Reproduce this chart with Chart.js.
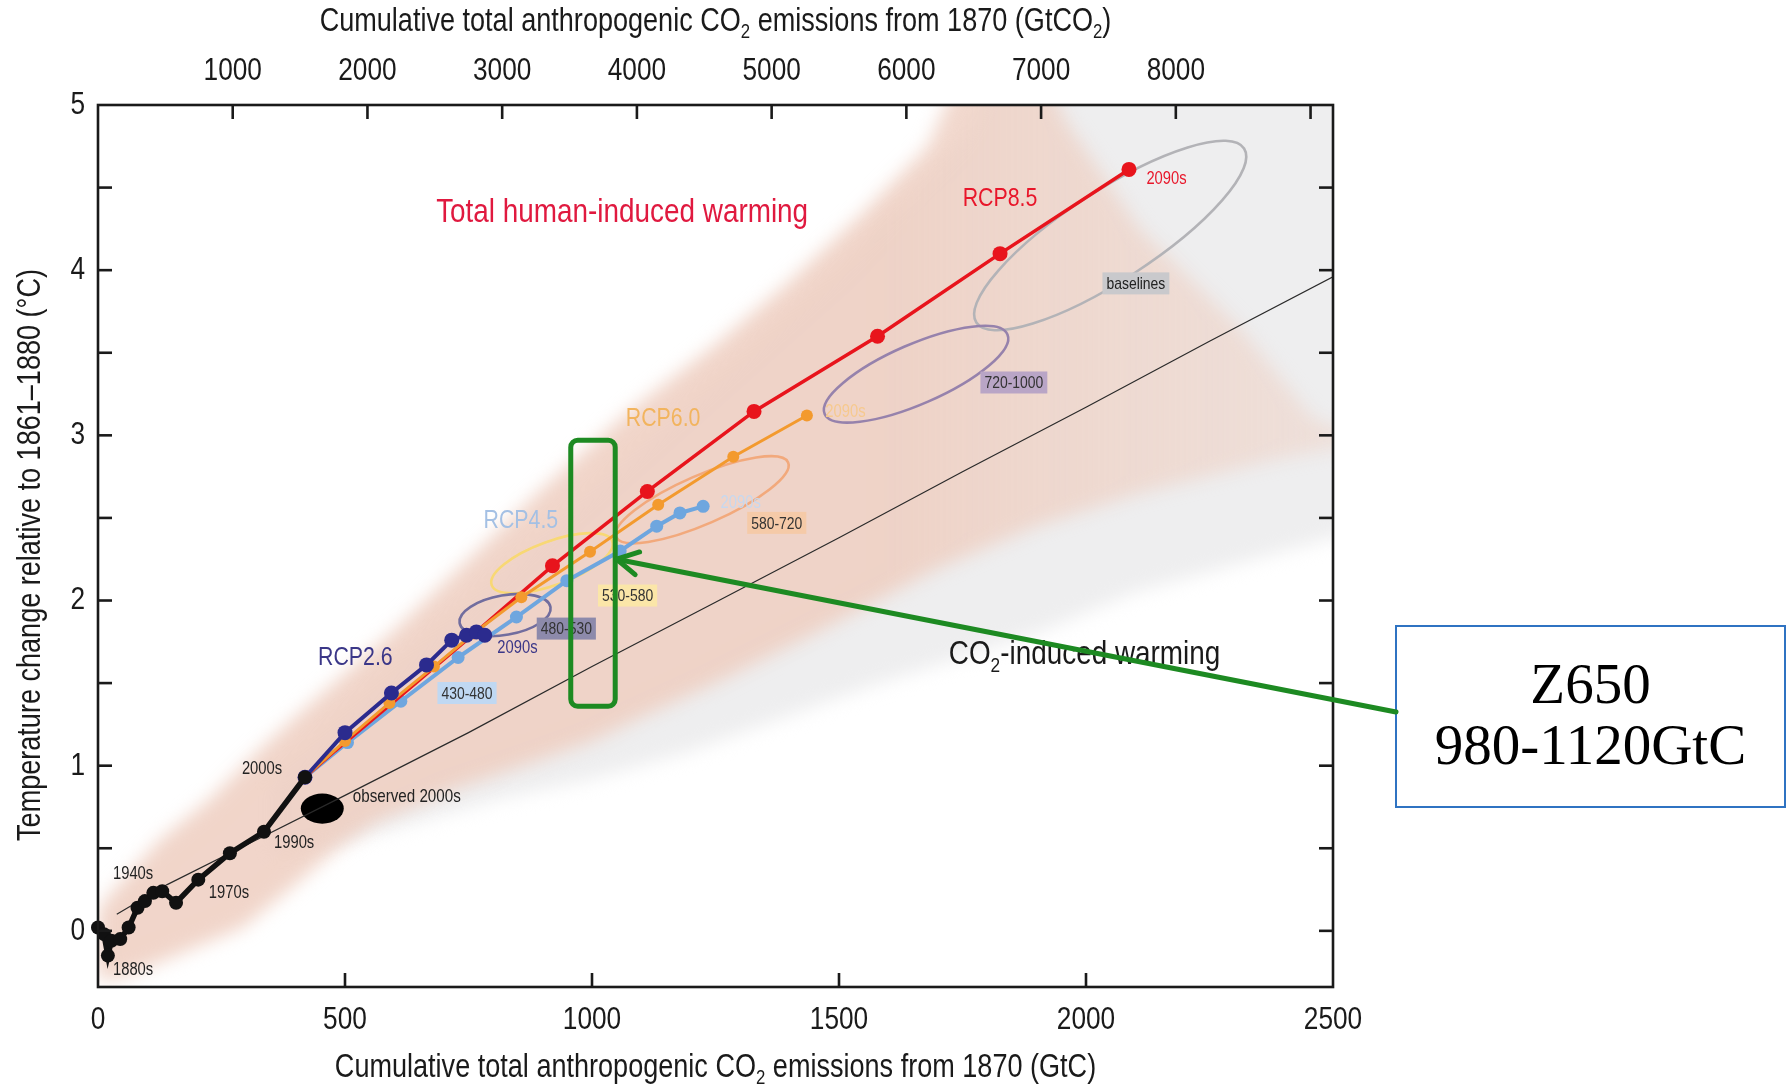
<!DOCTYPE html>
<html>
<head>
<meta charset="utf-8">
<script src="https://cdn.jsdelivr.net/npm/chart.js@4.4.1/dist/chart.umd.min.js"></script>
<style>
  html, body { margin: 0; padding: 0; background: #fff; }
</style>
</head>
<body>
<canvas id="c" width="1787" height="1088"></canvas>
<script>
// Historical decades (GtC, degC)
const histX = [0, 12, 20, 27, 45, 62, 80, 95, 112, 130, 158, 203, 267, 336, 419];
const histY = [0.02, -0.02, -0.15, -0.06, -0.05, 0.02, 0.14, 0.18, 0.23, 0.24, 0.17, 0.31, 0.47, 0.60, 0.93];

// RCP scenarios, decadal means 2000s..2090s
const rcp26X = [419, 500, 594, 665, 716, 746, 766, 783];
const rcp26Y = [0.93, 1.20, 1.44, 1.61, 1.76, 1.79, 1.81, 1.79];
const rcp45X = [419, 505, 613, 729, 847, 949, 1057, 1131, 1178, 1225];
const rcp45Y = [0.93, 1.14, 1.39, 1.655, 1.90, 2.12, 2.30, 2.45, 2.53, 2.57];
const rcp60X = [419, 500, 590, 680, 760, 857, 996, 1134, 1286, 1435];
const rcp60Y = [0.93, 1.15, 1.38, 1.60, 1.80, 2.02, 2.295, 2.58, 2.87, 3.12];
const rcp85X = [419, 480, 600, 750, 920, 1112, 1328, 1578, 1826, 2087];
const rcp85Y = [0.93, 1.09, 1.39, 1.77, 2.21, 2.66, 3.145, 3.60, 4.10, 4.61];

// CO2-induced warming (thin black line)
const co2X = [38, 140, 300, 500, 750, 1000, 1250, 1500, 1750, 2000, 2250, 2500];
const co2Y = [0.10, 0.28, 0.52, 0.82, 1.20, 1.60, 1.99, 2.38, 2.78, 3.17, 3.57, 3.96];

// plume outlines
const pinkUpX = [0, 24, 125, 227, 328, 409, 600, 750, 900, 1077, 1250, 1395, 1550, 1680, 1760, 1900, 1960, 2109, 2312, 2460, 2550];
const pinkUpY = [0.12, 0.22, 0.55, 0.80, 1.10, 1.32, 1.82, 2.25, 2.68, 3.15, 3.55, 3.92, 4.35, 4.75, 5.3, 5.3, 4.9, 4.25, 3.65, 3.1, 3.0];
const pinkLoX = [2550, 2379, 2109, 1900, 1704, 1450, 1250, 1083, 1000, 880, 712, 564, 484, 395, 293, 125, 50, 0];
const pinkLoY = [2.95, 2.85, 2.65, 2.45, 2.2, 1.8, 1.5, 1.27, 1.15, 1.02, 0.85, 0.66, 0.5, 0.27, 0.02, -0.19, -0.28, -0.3];
const greyUpX = [350, 600, 900, 1200, 1500, 1750, 1850, 2600];
const greyUpY = [0.9, 1.6, 2.4, 3.2, 4.0, 4.8, 5.4, 5.4];
const greyLoX = [2600, 2500, 2100, 1900, 1573, 1192, 1000, 814, 600, 450, 350];
const greyLoY = [2.45, 2.38, 2.05, 1.8, 1.49, 1.08, 0.92, 0.8, 0.62, 0.5, 0.45];

// top axis (GtCO2)
const topTicks = [1000, 2000, 3000, 4000, 5000, 6000, 7000, 8000, 9000];
const topLabels = ['1000', '2000', '3000', '4000', '5000', '6000', '7000', '8000', ''];
const CO2_PER_C = 44 / 12;

// concentration ellipses: centre, tip of the long axis, short/long ratio
const ellipses = [
  { cx: 2049, cy: 4.21, tx: 2320, ty: 4.737, ratio: 0.28, color: '#b3b3b7' },
  { cx: 1656, cy: 3.37, tx: 1841, ty: 3.611, ratio: 0.30, color: '#9682ac' },
  { cx: 1223, cy: 2.61, tx: 1397, ty: 2.836, ratio: 0.26, color: '#f2a97c' },
  { cx: 919, cy: 2.226, tx: 1041, ty: 2.359, ratio: 0.34, color: '#f8d874' },
  { cx: 824, cy: 1.912, tx: 916, ty: 1.96, ratio: 0.43, color: '#716d9e' }
];
const observed = { x: 454, y: 0.74, rx: 43.5, ry: 0.091 };

const FONT = "'Liberation Sans', Arial, sans-serif";
const SQ = 0.82; // horizontal squeeze, condensed look
const GREEN = '#1d8a22';
const INK = '#1a1a1a';

// text annotations (data positions)
const tags = [
  { t: 'baselines', x: 2101, y: 3.92, bg: '#c9c9cc', c: '#222' },
  { t: '720-1000', x: 1854, y: 3.32, bg: '#b9a5c6', c: '#333' },
  { t: '580-720', x: 1374, y: 2.47, bg: '#f5caa8', c: '#333' },
  { t: '530-580', x: 1072, y: 2.03, bg: '#fbe6a8', c: '#333' },
  { t: '480-530', x: 948, y: 1.83, bg: '#8d8aab', c: '#333' },
  { t: '430-480', x: 747, y: 1.44, bg: '#c0d8f2', c: '#333' }
];
const notes = [
  { t: 'Total human-induced warming', x: 1061, y: 4.35, c: '#e0193f', s: 34 },
  { t: 'RCP8.5', x: 1826, y: 4.43, c: '#e8162a', s: 26 },
  { t: 'RCP6.0', x: 1144, y: 3.10, c: '#f2b45e', s: 26 },
  { t: 'RCP4.5', x: 856, y: 2.48, c: '#a4c0e4', s: 26 },
  { t: 'RCP2.6', x: 521, y: 1.655, c: '#3b3788', s: 26 },
  { t: '2090s', x: 2163, y: 4.55, c: '#e8162a', s: 18 },
  { t: '2090s', x: 849, y: 1.71, c: '#3b3788', s: 18 },
  { t: '2090s', x: 1301, y: 2.59, c: '#c6d8ef', s: 18 },
  { t: '2090s', x: 1513, y: 3.14, c: '#f6c98e', s: 18 },
  { t: '1880s', x: 71, y: -0.24, c: '#222', s: 18 },
  { t: '1940s', x: 71, y: 0.345, c: '#222', s: 18 },
  { t: '1970s', x: 265, y: 0.23, c: '#222', s: 18 },
  { t: '1990s', x: 397, y: 0.53, c: '#222', s: 18 },
  { t: '2000s', x: 332, y: 0.98, c: '#222', s: 18 },
  { t: 'observed 2000s', x: 625, y: 0.81, c: '#222', s: 18.5 }
];
// highlighted band
const band = { x0: 957, x1: 1047, y0: 1.36, y1: 2.97, tipX: 1050, tipY: 2.25 };
const boxLines = ['Z650', '980-1120GtC'];

const pts = (xs, ys) => xs.map((x, i) => ({ x, y: ys[i] }));
const poly = (ux, uy, lx, ly) => pts(ux, uy).concat(pts(lx, ly));

// condensed text with optional subscript parts; align: 'center' | 'left' | 'right'
function rich(ctx, parts, x, y, size, color, align) {
  const fontOf = p => (p[1] ? size * 0.62 : size) + 'px ' + FONT;
  const w = parts.map(p => { ctx.font = fontOf(p); return ctx.measureText(p[0]).width; });
  const total = w.reduce((a, b) => a + b, 0) * SQ;
  let x0 = x - total / 2;
  if (align === 'left') x0 = x;
  if (align === 'right') x0 = x - total;
  ctx.save();
  ctx.translate(x0, y);
  ctx.scale(SQ, 1);
  ctx.fillStyle = color;
  ctx.textAlign = 'left';
  ctx.textBaseline = 'middle';
  let cx = 0;
  parts.forEach((p, i) => {
    ctx.font = fontOf(p);
    ctx.fillText(p[0], cx, p[1] ? size * 0.32 : 0);
    cx += w[i];
  });
  ctx.restore();
  return total;
}

function seg(ctx, x0, y0, x1, y1) {
  ctx.beginPath(); ctx.moveTo(x0, y0); ctx.lineTo(x1, y1); ctx.stroke();
}

// pink plume fades towards the right-hand side
function pinkFill(context) {
  const chart = context.chart;
  const xs = chart.scales.x;
  if (!chart.chartArea || !xs) return 'rgba(238,205,191,0.82)';
  const g = chart.ctx.createLinearGradient(xs.getPixelForValue(1600), 0, xs.getPixelForValue(2550), 0);
  g.addColorStop(0, 'rgba(238,205,191,0.84)');
  g.addColorStop(1, 'rgba(238,210,198,0.5)');
  return g;
}

const annot = {
  id: 'annot',
  beforeDatasetsDraw(chart) {
    chart.ctx.save();
    chart.ctx.filter = 'blur(9px)';
  },
  afterDatasetDraw(chart, args) {
    if (args.index !== 6) return;
    const ctx = chart.ctx;
    ctx.restore();
    const xs = chart.scales.x, ys = chart.scales.y;
    const a = chart.chartArea;
    ctx.save();
    ctx.beginPath(); ctx.rect(a.left, a.top, a.right - a.left, a.bottom - a.top); ctx.clip();
    ellipses.forEach(e => {
      const cx = xs.getPixelForValue(e.cx), cy = ys.getPixelForValue(e.cy);
      const tx = xs.getPixelForValue(e.tx), ty = ys.getPixelForValue(e.ty);
      const r = Math.hypot(tx - cx, ty - cy);
      ctx.beginPath();
      ctx.ellipse(cx, cy, r, r * e.ratio, Math.atan2(ty - cy, tx - cx), 0, Math.PI * 2);
      ctx.strokeStyle = e.color; ctx.lineWidth = 2.6; ctx.stroke();
    });
    const ox = xs.getPixelForValue(observed.x), oy = ys.getPixelForValue(observed.y);
    ctx.beginPath();
    ctx.ellipse(ox, oy, xs.getPixelForValue(observed.x + observed.rx) - ox,
      oy - ys.getPixelForValue(observed.y + observed.ry), 0, 0, Math.PI * 2);
    ctx.fillStyle = '#000'; ctx.fill();
    ctx.restore();
  },
  afterDatasetsDraw(chart) {
    const ctx = chart.ctx;
    const xs = chart.scales.x, ys = chart.scales.y;
    const { left, right, top, bottom } = chart.chartArea;
    ctx.save();
    // range tags
    tags.forEach(g => {
      ctx.font = '17px ' + FONT;
      const w = ctx.measureText(g.t).width * SQ + 8;
      const px = xs.getPixelForValue(g.x), py = ys.getPixelForValue(g.y);
      ctx.fillStyle = g.bg;
      ctx.fillRect(px - w / 2, py - 11, w, 22);
      rich(ctx, [[g.t, 0]], px, py + 1, 17, g.c, 'center');
    });
    notes.forEach(n => {
      rich(ctx, [[n.t, 0]], xs.getPixelForValue(n.x), ys.getPixelForValue(n.y), n.s, n.c, 'center');
    });
    rich(ctx, [['CO', 0], ['2', 1], ['-induced warming', 0]],
      xs.getPixelForValue(1997), ys.getPixelForValue(1.67), 34, INK, 'center');

    // frame and inward ticks
    ctx.strokeStyle = INK; ctx.lineWidth = 2.6;
    ctx.strokeRect(left, top, right - left, bottom - top);
    const TL = 14;
    ys.ticks.forEach(t => {
      const v = t.value;
      if (v < -1e-6 || Math.abs(v * 2 - Math.round(v * 2)) > 1e-6) return;
      const py = ys.getPixelForValue(v);
      if (Number.isInteger(Math.round(v * 1e6) / 1e6)) rich(ctx, [[String(Math.round(v)), 0]], left - 13, py, 32, INK, 'right');
      if (v >= ys.max - 1e-6) return;
      seg(ctx, left, py, left + TL, py);
      seg(ctx, right, py, right - TL, py);
    });
    xs.ticks.forEach(t => {
      const px = xs.getPixelForValue(t.value);
      rich(ctx, [[String(t.value), 0]], px, bottom + 33, 32, INK, 'center');
      if (t.value <= xs.min || t.value >= xs.max) return;
      seg(ctx, px, bottom, px, bottom - TL);
    });
    topTicks.forEach((v, i) => {
      const px = xs.getPixelForValue(v / CO2_PER_C);
      seg(ctx, px, top, px, top + TL);
      if (topLabels[i]) rich(ctx, [[topLabels[i], 0]], px, top - 34, 32, INK, 'center');
    });

    // axis titles
    const mid = (left + right) / 2;
    rich(ctx, [['Cumulative total anthropogenic CO', 0], ['2', 1], [' emissions from 1870 (GtCO', 0], ['2', 1], [')', 0]],
      mid, top - 83, 33, INK, 'center');
    rich(ctx, [['Cumulative total anthropogenic CO', 0], ['2', 1], [' emissions from 1870 (GtC)', 0]],
      mid, bottom + 81, 33, INK, 'center');
    ctx.translate(left - 67, (top + bottom) / 2 + 9);
    ctx.rotate(-Math.PI / 2);
    rich(ctx, [['Temperature change relative to 1861\u20131880 (\u00b0C)', 0]], 0, 0, 33, INK, 'center');
    ctx.restore();
  },
  afterDraw(chart) {
    const ctx = chart.ctx;
    const xs = chart.scales.x, ys = chart.scales.y;
    const a = chart.chartArea;
    ctx.save();
    // green band
    const bx0 = xs.getPixelForValue(band.x0), bx1 = xs.getPixelForValue(band.x1);
    const by0 = ys.getPixelForValue(band.y1), by1 = ys.getPixelForValue(band.y0);
    ctx.strokeStyle = GREEN; ctx.lineWidth = 5;
    ctx.beginPath();
    ctx.roundRect(bx0, by0, bx1 - bx0, by1 - by0, 7);
    ctx.stroke();
    // text box
    const boxL = a.right + 63, boxT = a.top + 521, boxW = 389, boxH = 181;
    ctx.fillStyle = '#fff';
    ctx.fillRect(boxL, boxT, boxW, boxH);
    ctx.strokeStyle = '#2f73c2'; ctx.lineWidth = 2;
    ctx.strokeRect(boxL, boxT, boxW, boxH);
    ctx.fillStyle = '#000'; ctx.textAlign = 'center'; ctx.textBaseline = 'middle';
    ctx.font = "57px 'Liberation Serif', 'Times New Roman', serif";
    ctx.fillText(boxLines[0], boxL + boxW / 2, boxT + 62);
    ctx.fillText(boxLines[1], boxL + boxW / 2, boxT + 123);
    // arrow
    const sx = boxL, sy = boxT + 86;
    const ex = xs.getPixelForValue(band.tipX), ey = ys.getPixelForValue(band.tipY);
    ctx.strokeStyle = GREEN; ctx.lineWidth = 5; ctx.lineCap = 'round';
    seg(ctx, sx, sy, ex, ey);
    const ang = Math.atan2(sy - ey, sx - ex);
    [0.5, -0.5].forEach(d => {
      seg(ctx, ex, ey, ex + 24 * Math.cos(ang + d), ey + 24 * Math.sin(ang + d));
    });
    ctx.restore();
  }
};

Chart.defaults.font.family = FONT;

const line = (data, color, width, radius, order, extra) => Object.assign({
  data, borderColor: color, backgroundColor: color, borderWidth: width,
  pointRadius: radius, pointBorderWidth: 0, fill: false, order
}, extra || {});

new Chart(document.getElementById('c'), {
  type: 'line',
  data: {
    datasets: [
      line(pts(histX, histY), '#111', 5.5, 7, 1, { clip: 10 }),
      line(pts(rcp26X, rcp26Y), '#2b2b8e', 4, 7.5, 2),
      line(pts(rcp60X, rcp60Y), '#f39a2e', 3, 6, 3),
      line(pts(rcp85X, rcp85Y), '#e8141c', 3.5, rcp85X.map((v, i) => i < 4 ? 0 : 7.5), 4),
      line(pts(rcp45X, rcp45Y), '#6ea6df', 4, 6.5, 5),
      line(pts(co2X, co2Y), '#2a2a2a', 1.2, 0, 6),
      line(poly(pinkUpX, pinkUpY, pinkLoX, pinkLoY), 'rgba(0,0,0,0)', 0, 0, 7,
        { fill: 'shape', backgroundColor: pinkFill }),
      line(poly(greyUpX, greyUpY, greyLoX, greyLoY), 'rgba(0,0,0,0)', 0, 0, 8,
        { fill: 'shape', backgroundColor: '#eeeeef' })
    ]
  },
  options: {
    responsive: false,
    animation: false,
    events: [],
    layout: { padding: { left: 0, right: 454, top: 105, bottom: 0 } },
    elements: { line: { tension: 0 } },
    plugins: { legend: { display: false }, tooltip: { enabled: false } },
    scales: {
      x: {
        type: 'linear', position: 'bottom', min: 0, max: 2500,
        grid: { display: false, drawTicks: false }, border: { display: false },
        ticks: { stepSize: 500, display: false, autoSkip: false },
        afterFit(s) { s.height = 101; }
      },
      y: {
        type: 'linear', min: -0.34, max: 5,
        grid: { display: false, drawTicks: false }, border: { display: false },
        ticks: { stepSize: 0.5, display: false },
        afterFit(s) { s.width = 98; }
      }
    }
  },
  plugins: [annot]
});
</script>
</body>
</html>
